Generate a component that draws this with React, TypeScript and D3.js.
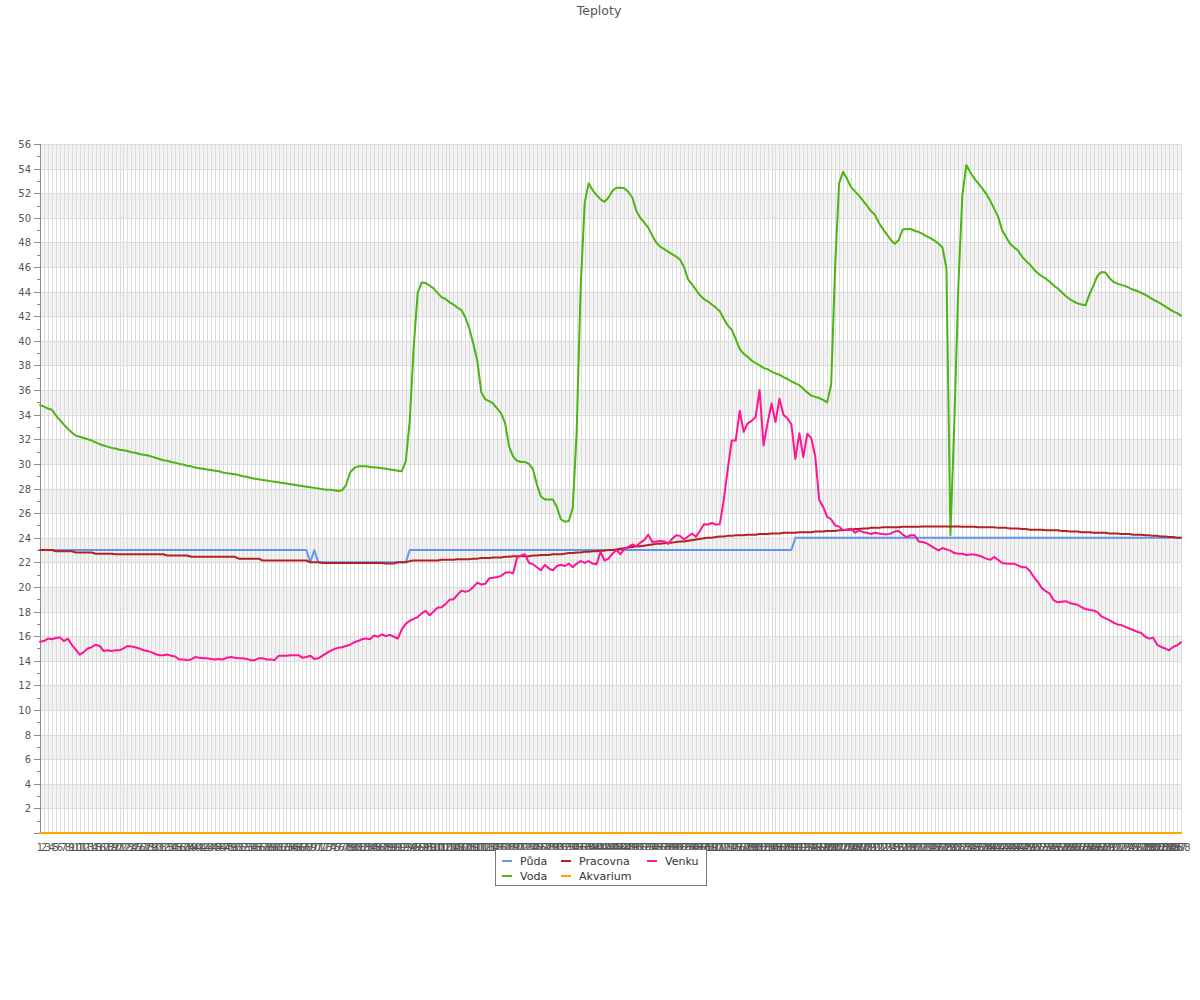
import * as d3 from "d3"

const W = 1200
const H = 1000
const plot = { left: 40, right: 1181, top: 144, bottom: 833 }

// x categories 1..288 (5 min samples)
const labels = d3.range(1, 289).map((d) => String(d))

const puda = [
  23, 23, 23, 23, 23, 23, 23, 23, 23, 23, 23, 23, 23, 23, 23, 23, 23, 23, 23, 23, 23, 23, 23, 23,
  23, 23, 23, 23, 23, 23, 23, 23, 23, 23, 23, 23, 23, 23, 23, 23, 23, 23, 23, 23, 23, 23, 23, 23,
  23, 23, 23, 23, 23, 23, 23, 23, 23, 23, 23, 23, 23, 23, 23, 23, 23, 23, 23, 23, 22, 23, 22, 22,
  22, 22, 22, 22, 22, 22, 22, 22, 22, 22, 22, 22, 22, 22, 22, 22, 22, 22, 22, 22, 22, 23, 23, 23,
  23, 23, 23, 23, 23, 23, 23, 23, 23, 23, 23, 23, 23, 23, 23, 23, 23, 23, 23, 23, 23, 23, 23, 23,
  23, 23, 23, 23, 23, 23, 23, 23, 23, 23, 23, 23, 23, 23, 23, 23, 23, 23, 23, 23, 23, 23, 23, 23,
  23, 23, 23, 23, 23, 23, 23, 23, 23, 23, 23, 23, 23, 23, 23, 23, 23, 23, 23, 23, 23, 23, 23, 23,
  23, 23, 23, 23, 23, 23, 23, 23, 23, 23, 23, 23, 23, 23, 23, 23, 23, 23, 23, 23, 23, 23, 24, 24,
  24, 24, 24, 24, 24, 24, 24, 24, 24, 24, 24, 24, 24, 24, 24, 24, 24, 24, 24, 24, 24, 24, 24, 24,
  24, 24, 24, 24, 24, 24, 24, 24, 24, 24, 24, 24, 24, 24, 24, 24, 24, 24, 24, 24, 24, 24, 24, 24,
  24, 24, 24, 24, 24, 24, 24, 24, 24, 24, 24, 24, 24, 24, 24, 24, 24, 24, 24, 24, 24, 24, 24, 24,
  24, 24, 24, 24, 24, 24, 24, 24, 24, 24, 24, 24, 24, 24, 24, 24, 24, 24, 24, 24, 24, 24, 24, 24,
]

const voda = [
  34.8, 34.65, 34.5, 34.4, 33.95, 33.55, 33.2, 32.85, 32.55, 32.3, 32.2, 32.1,
  32.0, 31.9, 31.75, 31.6, 31.5, 31.4, 31.3, 31.25, 31.15, 31.1, 31.05, 30.95,
  30.9, 30.8, 30.75, 30.7, 30.6, 30.5, 30.4, 30.3, 30.25, 30.15, 30.1, 30.0,
  29.95, 29.85, 29.8, 29.7, 29.65, 29.6, 29.55, 29.5, 29.45, 29.4, 29.3, 29.25,
  29.2, 29.15, 29.1, 29.0, 28.95, 28.85, 28.8, 28.75, 28.7, 28.65, 28.6, 28.55,
  28.5, 28.45, 28.4, 28.35, 28.3, 28.25, 28.2, 28.15, 28.1, 28.05, 28.0, 27.95,
  27.9, 27.9, 27.85, 27.8, 27.85, 28.3, 29.3, 29.65, 29.8, 29.8, 29.8, 29.75,
  29.7, 29.7, 29.65, 29.6, 29.55, 29.5, 29.45, 29.4, 30.2, 33.5, 39.5, 43.9,
  44.75, 44.7, 44.5, 44.25, 43.9, 43.55, 43.4, 43.15, 42.95, 42.7, 42.5, 41.9,
  41.0, 39.75, 38.4, 35.8, 35.25, 35.1, 34.9, 34.5, 34.1, 33.3, 31.4, 30.6,
  30.25, 30.15, 30.15, 30.0, 29.55, 28.3, 27.35, 27.1, 27.1, 27.1, 26.5, 25.5,
  25.3, 25.35, 26.4, 32.7, 44.4, 51.2, 52.8, 52.25, 51.85, 51.5, 51.3, 51.65,
  52.2, 52.45, 52.45, 52.4, 52.1, 51.65, 50.55, 50.0, 49.6, 49.2, 48.55, 48.0,
  47.65, 47.45, 47.25, 47.05, 46.85, 46.6, 46.0, 45.0, 44.6, 44.15, 43.7, 43.4,
  43.2, 42.95, 42.7, 42.4, 41.8, 41.25, 40.9, 40.15, 39.35, 38.95, 38.7, 38.4,
  38.2, 38.0, 37.8, 37.7, 37.5, 37.35, 37.25, 37.05, 36.9, 36.7, 36.55, 36.4,
  36.1, 35.8, 35.55, 35.45, 35.35, 35.2, 35.0, 36.45, 46.0, 52.8, 53.75, 53.15,
  52.5, 52.15, 51.8, 51.4, 51.0, 50.55, 50.25, 49.6, 49.1, 48.65, 48.2, 47.9,
  48.2, 49.05, 49.1, 49.1, 48.95, 48.85, 48.7, 48.5, 48.35, 48.15, 47.9, 47.6,
  45.9, 24.2, 33.5, 44.5, 51.8, 54.3, 53.7, 53.2, 52.8, 52.4, 51.95, 51.4,
  50.75, 50.1, 49.0, 48.45, 47.9, 47.6, 47.35, 46.85, 46.5, 46.2, 45.8, 45.5,
  45.25, 45.05, 44.8, 44.5, 44.25, 43.95, 43.65, 43.4, 43.2, 43.05, 42.95, 42.9,
  43.8, 44.5, 45.3, 45.6, 45.55, 45.1, 44.8, 44.65, 44.55, 44.45, 44.3, 44.15,
  44.05, 43.9, 43.75, 43.55, 43.35, 43.2, 43.0, 42.8, 42.6, 42.4, 42.25, 42.05,
]

const pracovna = [
  23.0, 23.0, 23.0, 23.0, 22.9, 22.9, 22.9, 22.9, 22.9, 22.8, 22.8, 22.8,
  22.8, 22.8, 22.7, 22.7, 22.7, 22.7, 22.7, 22.65, 22.65, 22.65, 22.65, 22.65,
  22.65, 22.65, 22.65, 22.65, 22.65, 22.65, 22.65, 22.65, 22.55, 22.55, 22.55, 22.55,
  22.55, 22.55, 22.45, 22.45, 22.45, 22.45, 22.45, 22.45, 22.45, 22.45, 22.45, 22.45,
  22.45, 22.45, 22.3, 22.3, 22.3, 22.3, 22.3, 22.3, 22.15, 22.15, 22.15, 22.15,
  22.15, 22.15, 22.15, 22.15, 22.15, 22.15, 22.15, 22.15, 22.0, 22.0, 22.0, 21.95,
  21.95, 21.95, 21.95, 21.95, 21.95, 21.95, 21.95, 21.95, 21.95, 21.95, 21.95, 21.95,
  21.95, 21.95, 21.95, 21.9, 21.9, 21.9, 22.0, 22.0, 22.0, 22.1, 22.15, 22.15,
  22.15, 22.15, 22.15, 22.15, 22.15, 22.2, 22.2, 22.2, 22.2, 22.25, 22.25, 22.25,
  22.25, 22.3, 22.3, 22.35, 22.35, 22.35, 22.4, 22.4, 22.4, 22.45, 22.45, 22.5,
  22.5, 22.5, 22.5, 22.5, 22.55, 22.55, 22.6, 22.6, 22.6, 22.65, 22.65, 22.65,
  22.7, 22.75, 22.75, 22.8, 22.8, 22.85, 22.85, 22.9, 22.9, 22.95, 22.95, 23.0,
  23.0, 23.05, 23.1, 23.15, 23.2, 23.25, 23.3, 23.3, 23.35, 23.4, 23.45, 23.5,
  23.5, 23.55, 23.6, 23.6, 23.65, 23.7, 23.7, 23.75, 23.8, 23.85, 23.9, 23.95,
  24.0, 24.0, 24.05, 24.1, 24.1, 24.15, 24.15, 24.2, 24.2, 24.2, 24.25, 24.25,
  24.25, 24.3, 24.3, 24.3, 24.35, 24.35, 24.35, 24.4, 24.4, 24.4, 24.4, 24.45,
  24.45, 24.45, 24.45, 24.5, 24.5, 24.5, 24.55, 24.55, 24.55, 24.6, 24.6, 24.65,
  24.65, 24.7, 24.7, 24.75, 24.75, 24.8, 24.8, 24.8, 24.85, 24.85, 24.85, 24.85,
  24.85, 24.9, 24.9, 24.9, 24.9, 24.9, 24.92, 24.92, 24.92, 24.92, 24.92, 24.92,
  24.92, 24.92, 24.92, 24.92, 24.9, 24.9, 24.9, 24.9, 24.85, 24.85, 24.85, 24.85,
  24.85, 24.8, 24.8, 24.8, 24.75, 24.75, 24.75, 24.7, 24.7, 24.65, 24.65, 24.65,
  24.65, 24.6, 24.6, 24.6, 24.6, 24.55, 24.55, 24.5, 24.5, 24.5, 24.45, 24.45,
  24.45, 24.4, 24.4, 24.4, 24.4, 24.35, 24.35, 24.35, 24.3, 24.3, 24.3, 24.25,
  24.25, 24.25, 24.2, 24.2, 24.15, 24.15, 24.1, 24.1, 24.05, 24.05, 24.0, 24.0,
]

const akvarium = [
  0, 0, 0, 0, 0, 0, 0, 0, 0, 0, 0, 0, 0, 0, 0, 0, 0, 0, 0, 0, 0, 0, 0, 0,
  0, 0, 0, 0, 0, 0, 0, 0, 0, 0, 0, 0, 0, 0, 0, 0, 0, 0, 0, 0, 0, 0, 0, 0,
  0, 0, 0, 0, 0, 0, 0, 0, 0, 0, 0, 0, 0, 0, 0, 0, 0, 0, 0, 0, 0, 0, 0, 0,
  0, 0, 0, 0, 0, 0, 0, 0, 0, 0, 0, 0, 0, 0, 0, 0, 0, 0, 0, 0, 0, 0, 0, 0,
  0, 0, 0, 0, 0, 0, 0, 0, 0, 0, 0, 0, 0, 0, 0, 0, 0, 0, 0, 0, 0, 0, 0, 0,
  0, 0, 0, 0, 0, 0, 0, 0, 0, 0, 0, 0, 0, 0, 0, 0, 0, 0, 0, 0, 0, 0, 0, 0,
  0, 0, 0, 0, 0, 0, 0, 0, 0, 0, 0, 0, 0, 0, 0, 0, 0, 0, 0, 0, 0, 0, 0, 0,
  0, 0, 0, 0, 0, 0, 0, 0, 0, 0, 0, 0, 0, 0, 0, 0, 0, 0, 0, 0, 0, 0, 0, 0,
  0, 0, 0, 0, 0, 0, 0, 0, 0, 0, 0, 0, 0, 0, 0, 0, 0, 0, 0, 0, 0, 0, 0, 0,
  0, 0, 0, 0, 0, 0, 0, 0, 0, 0, 0, 0, 0, 0, 0, 0, 0, 0, 0, 0, 0, 0, 0, 0,
  0, 0, 0, 0, 0, 0, 0, 0, 0, 0, 0, 0, 0, 0, 0, 0, 0, 0, 0, 0, 0, 0, 0, 0,
  0, 0, 0, 0, 0, 0, 0, 0, 0, 0, 0, 0, 0, 0, 0, 0, 0, 0, 0, 0, 0, 0, 0, 0,
]

const venku = [
  15.55, 15.6, 15.8, 15.75, 15.85, 15.9, 15.6, 15.8, 15.3, 14.9, 14.5, 14.7,
  15.0, 15.1, 15.3, 15.2, 14.8, 14.85, 14.8, 14.85, 14.85, 15.0, 15.2, 15.15,
  15.1, 15.0, 14.85, 14.8, 14.7, 14.55, 14.45, 14.45, 14.5, 14.4, 14.35, 14.1,
  14.1, 14.05, 14.1, 14.3, 14.25, 14.2, 14.2, 14.15, 14.1, 14.15, 14.1, 14.25,
  14.3, 14.25, 14.2, 14.2, 14.15, 14.05, 14.05, 14.2, 14.2, 14.1, 14.1, 14.05,
  14.4, 14.4, 14.4, 14.45, 14.45, 14.45, 14.25, 14.3, 14.4, 14.15, 14.2, 14.4,
  14.6, 14.8, 14.95, 15.05, 15.1, 15.2, 15.3, 15.5, 15.6, 15.75, 15.8, 15.75,
  16.05, 15.95, 16.15, 16.0, 16.1, 15.95, 15.8, 16.55, 17.0, 17.25, 17.4, 17.55,
  17.85, 18.05, 17.7, 18.0, 18.3, 18.35, 18.6, 18.95, 19.0, 19.35, 19.7, 19.6,
  19.7, 20.0, 20.35, 20.2, 20.25, 20.7, 20.75, 20.8, 20.9, 21.15, 21.2, 21.1,
  22.4, 22.55, 22.65, 21.95, 21.85, 21.6, 21.35, 21.8, 21.5, 21.35, 21.7, 21.8,
  21.7, 21.9, 21.6, 21.9, 22.1, 21.95, 22.1, 21.9, 21.85, 22.85, 22.15, 22.3,
  22.7, 23.0, 22.65, 23.1, 23.25, 23.45, 23.3, 23.6, 23.8, 24.25, 23.65, 23.7,
  23.74, 23.7, 23.5, 23.9, 24.2, 24.15, 23.85, 24.1, 24.34, 24.07, 24.56, 25.1,
  25.07, 25.2, 25.07, 25.1, 27.1, 29.6, 31.9, 31.9, 34.3, 32.6, 33.3, 33.5,
  33.8, 36.0, 31.5, 33.3, 34.9, 33.4, 35.3, 34.0, 33.7, 33.2, 30.4, 32.5,
  30.55, 32.45, 32.1, 30.6, 27.07, 26.5, 25.7, 25.5, 25.0, 24.9, 24.6, 24.66,
  24.74, 24.4, 24.6, 24.45, 24.4, 24.3, 24.4, 24.35, 24.3, 24.27, 24.35, 24.5,
  24.55, 24.25, 24.05, 24.2, 24.2, 23.7, 23.66, 23.55, 23.35, 23.15, 22.97, 23.16,
  23.05, 22.95, 22.75, 22.7, 22.7, 22.6, 22.64, 22.64, 22.55, 22.45, 22.3, 22.2,
  22.43, 22.2, 21.94, 21.9, 21.89, 21.89, 21.75, 21.6, 21.6, 21.3, 20.8, 20.4,
  19.9, 19.65, 19.45, 18.9, 18.75, 18.8, 18.84, 18.7, 18.62, 18.55, 18.35, 18.2,
  18.12, 18.08, 17.95, 17.6, 17.45, 17.3, 17.1, 16.95, 16.9, 16.75, 16.62, 16.5,
  16.35, 16.26, 15.95, 15.8, 15.88, 15.3, 15.12, 15.0, 14.85, 15.12, 15.25, 15.5,
]

const seriesNames = ["Půda", "Voda", "Pracovna", "Akvarium", "Venku"]
const seriesColors = ["#6495ed", "#4bb512", "#b22222", "#ffa500", "#ff1493"]
const seriesValues = [puda, voda, pracovna, akvarium, venku]

const yTicks = d3.range(0, 57)

const FONT = "'DejaVu Sans', Verdana, sans-serif"

export default function App() {
  const x = d3.scalePoint<string>().domain(labels).range([plot.left, plot.right])
  const y = d3.scaleLinear().domain([0, 56]).range([plot.bottom, plot.top])

  const line = d3
    .line<number>()
    .x((_, i) => x(labels[i]) ?? 0)
    .y((d) => y(d))

  const bands = yTicks.filter((v) => v % 4 === 2 && v < 56)
  const majors = yTicks.filter((v) => v % 2 === 0)

  // legend: 2 rows, filled column by column
  const legendCols = [502, 561, 647]
  const legendRows = [861, 876]

  return (
    <svg
      width={W}
      height={H}
      style={{ position: "absolute", left: 0, top: 0, background: "#fff" }}
      fontFamily={FONT}
    >
      <text x={599} y={15} textAnchor="middle" fontSize={12.5} fill="#555">
        Teploty
      </text>

      {/* alternating bands */}
      {bands.map((v) => (
        <rect
          key={"b" + v}
          x={plot.left}
          y={y(v + 2)}
          width={plot.right - plot.left}
          height={y(v) - y(v + 2)}
          fill="#f2f2f2"
        />
      ))}

      {/* vertical grid */}
      {labels.map((l) => {
        const px = Math.round(x(l) ?? 0) + 0.5
        return (
          <line key={"v" + l} x1={px} x2={px} y1={plot.top} y2={plot.bottom} stroke="#dcdcdc" strokeWidth={1} />
        )
      })}

      {/* horizontal grid */}
      {majors.map((v) => {
        const py = Math.round(y(v)) + 0.5
        return (
          <line key={"h" + v} x1={plot.left} x2={plot.right} y1={py} y2={py} stroke="#dcdcdc" strokeWidth={1} />
        )
      })}

      {/* y axis */}
      <line x1={plot.left + 0.5} x2={plot.left + 0.5} y1={plot.top} y2={plot.bottom} stroke="#8c8c8c" />
      {yTicks.map((v) => {
        const py = Math.round(y(v)) + 0.5
        const major = v % 2 === 0
        return (
          <g key={"t" + v}>
            <line x1={major ? 34 : 37} x2={plot.left} y1={py} y2={py} stroke="#8c8c8c" />
            {major && v > 0 && (
              <text x={31} y={py + 3.5} textAnchor="end" fontSize={10} fill="#555">
                {v}
              </text>
            )}
          </g>
        )
      })}

      {/* x axis */}
      <line x1={plot.left} x2={plot.right} y1={plot.bottom + 0.5} y2={plot.bottom + 0.5} stroke="#8c8c8c" />
      {labels.map((l) => (
        <text key={"x" + l} x={x(l)} y={850.5} textAnchor="middle" fontSize={10} fill="#555">
          {l}
        </text>
      ))}

      {/* series */}
      {seriesValues.map((vals, i) => (
        <path
          key={seriesNames[i]}
          d={line(vals) ?? ""}
          fill="none"
          stroke={seriesColors[i]}
          strokeWidth={2}
          strokeLinejoin="round"
          strokeLinecap="round"
        />
      ))}

      {/* legend */}
      <rect x={495.5} y={849.5} width={211} height={36} fill="#fff" stroke="#7a7a7a" />
      {seriesNames.map((name, i) => {
        const cx = legendCols[Math.floor(i / 2)]
        const cy = legendRows[i % 2]
        return (
          <g key={"l" + name}>
            <line x1={cx} x2={cx + 10} y1={cy} y2={cy} stroke={seriesColors[i]} strokeWidth={2} />
            <text x={cx + 18} y={cy + 4} fontSize={11} fill="#333">
              {name}
            </text>
          </g>
        )
      })}
    </svg>
  )
}
